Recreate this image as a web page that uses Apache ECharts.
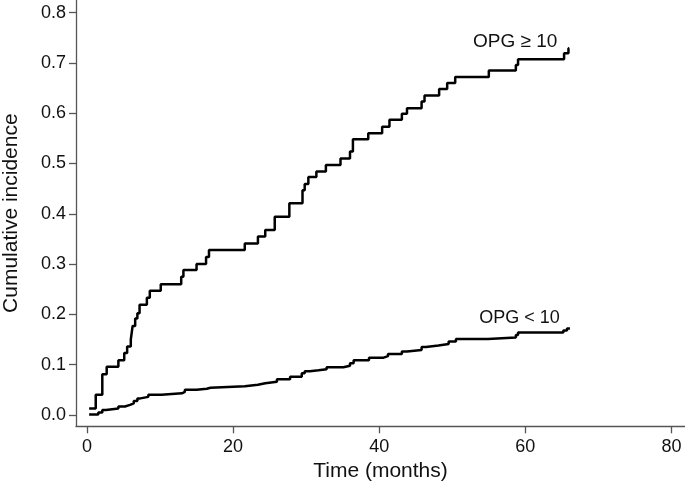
<!DOCTYPE html>
<html>
<head>
<meta charset="utf-8">
<script src="https://cdn.jsdelivr.net/npm/echarts@6/dist/echarts.min.js"></script>
<style>html,body{margin:0;padding:0;background:#fff;}#c{width:685px;height:481px;}</style>
</head>
<body>
<div id="c"></div>
<script>
// Time (months) at which each step occurs, and the cumulative incidence after it
var highTimes = [0.3,1.2,2.1,2.7,4.3,5.1,5.5,6.0,6.25,6.6,6.9,7.2,8.2,8.6,10.1,12.9,13.2,15.0,16.3,16.7,21.6,23.4,24.4,25.7,27.7,29.5,29.8,30.3,31.4,32.7,34.7,36.0,36.4,38.5,40.4,41.4,43.1,43.8,45.8,46.2,48.2,49.3,50.4,55.0,58.7,59.0,65.3,65.9,66.0];
var highValues = [0.013,0.040,0.081,0.096,0.109,0.123,0.136,0.150,0.177,0.192,0.202,0.219,0.233,0.247,0.260,0.275,0.288,0.300,0.314,0.328,0.341,0.355,0.368,0.394,0.421,0.447,0.459,0.473,0.484,0.497,0.510,0.524,0.548,0.560,0.573,0.587,0.599,0.610,0.623,0.635,0.648,0.660,0.672,0.685,0.696,0.707,0.719,0.729,0.729];
var lowTimes = [0.3,1.55,2.1,2.6,4.3,5.2,5.9,6.4,6.9,7.3,8.4,10.2,13.0,13.4,15.0,16.4,16.9,21.6,23.4,24.4,26.0,27.8,29.4,29.8,30.5,31.7,32.8,35.1,36.0,36.5,38.6,40.6,41.2,43.1,43.8,45.8,46.4,48.1,49.5,50.5,54.9,58.7,59.0,65.2,65.7,66.1];
var lowValues = [0.001,0.005,0.010,0.013,0.017,0.020,0.023,0.028,0.033,0.036,0.040,0.043,0.046,0.050,0.052,0.054,0.057,0.060,0.063,0.066,0.071,0.076,0.083,0.087,0.089,0.091,0.095,0.098,0.103,0.109,0.114,0.117,0.121,0.126,0.129,0.135,0.138,0.141,0.146,0.151,0.154,0.159,0.164,0.168,0.172,0.172];
var xTicks = [0,20,40,60,80];
var yTicks = [0,0.1,0.2,0.3,0.4,0.5,0.6,0.7,0.8];
var seriesNames = ['OPG \u2265 10','OPG < 10'];

function pairs(t, v){ return t.map(function(x,i){ return [x, v[i]]; }); }

var FONT = 'Liberation Sans';
var chart = echarts.init(document.getElementById('c'), null, {renderer:'canvas'});
chart.setOption({
  animation:false,
  backgroundColor:'#fff',
  grid:{left:76, right:0, top:0, bottom:54.7, containLabel:false, outerBoundsMode:'none'},
  xAxis:{
    type:'value', min:-1.5, max:81.85,
    name:'Time (months)', nameLocation:'middle', nameGap:30,
    nameTextStyle:{fontFamily:FONT, fontSize:21, color:'#111'},
    axisLine:{show:true, onZero:false, lineStyle:{color:'#555', width:1.3}},
    axisTick:{show:true, length:7, customValues:xTicks, lineStyle:{color:'#555', width:1.3}},
    axisLabel:{show:true, customValues:xTicks, margin:12, fontFamily:FONT, fontSize:18, color:'#111'},
    splitLine:{show:false}
  },
  yAxis:{
    type:'value', min:-0.0225, max:0.825,
    name:'Cumulative incidence', nameLocation:'middle', nameGap:54, nameRotate:90,
    nameTextStyle:{fontFamily:FONT, fontSize:21, color:'#111'},
    axisLine:{show:true, onZero:false, lineStyle:{color:'#555', width:1.3}},
    axisTick:{show:true, length:7, customValues:yTicks, lineStyle:{color:'#555', width:1.3}},
    axisLabel:{show:true, customValues:yTicks, margin:10, fontFamily:FONT, fontSize:18, color:'#111',
      formatter:function(v){ return v.toFixed(1); }},
    splitLine:{show:false}
  },
  series:[
    {
      name:seriesNames[0], type:'line', step:'end', showSymbol:false, symbol:'none',
      data:pairs(highTimes, highValues),
      lineStyle:{color:'#000', width:2.5},
      markPoint:{symbol:'circle', symbolSize:0, silent:true,
        data:[{coord:[58.6,0.742], value:seriesNames[0]}],
        label:{show:true, position:'inside', formatter:seriesNames[0], fontFamily:FONT, fontSize:19, color:'#111'}}
    },
    {
      name:seriesNames[1], type:'line', step:'end', showSymbol:false, symbol:'none',
      data:pairs(lowTimes, lowValues),
      lineStyle:{color:'#000', width:2.5},
      markPoint:{symbol:'circle', symbolSize:0, silent:true,
        data:[{coord:[59.2,0.192], value:seriesNames[1]}],
        label:{show:true, position:'inside', formatter:seriesNames[1], fontFamily:FONT, fontSize:18, color:'#111'}}
    }
  ]
});
</script>
</body>
</html>
